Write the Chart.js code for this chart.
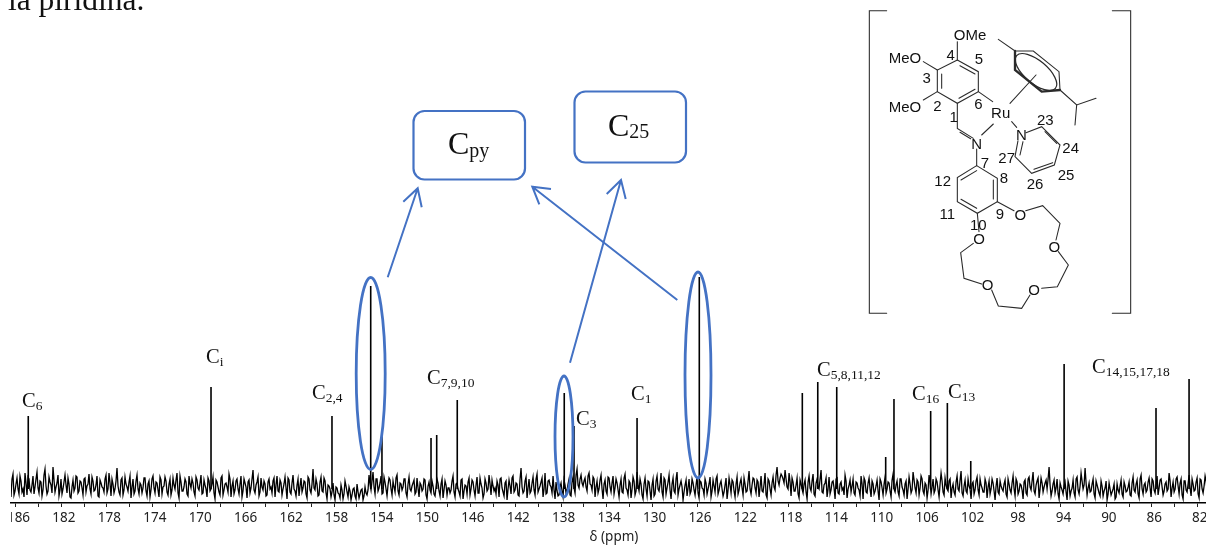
<!DOCTYPE html>
<html>
<head>
<meta charset="utf-8">
<script src="https://cdn.jsdelivr.net/npm/chart.js@4/dist/chart.umd.min.js"></script>
<style>
html,body{margin:0;padding:0;background:#fff;overflow:hidden;width:1206px;height:545px}
canvas{display:block}
</style>
</head>
<body>
<canvas id="c" width="1217" height="545"></canvas>
<script>
// Spectrum: values
const tickPpm = [186,184,182,180,178,176,174,172,170,168,166,164,162,160,158,156,154,152,150,148,146,144,142,140,138,136,134,132,130,128,126,124,122,120,118,116,114,112,110,108,106,104,102,100,98,96,94,92,90,88,86,84,82];
const labelledPpm = [186,182,178,174,170,166,162,158,154,150,146,142,138,134,130,126,122,118,114,110,106,102,98,94,90,86,82];
const peakPpm = [184.92,168.83,158.18,154.77,153.78,149.46,148.96,147.15,137.73,136.87,131.32,125.84,116.77,115.41,113.74,109.43,108.70,105.47,104.00,101.94,93.72,85.63,82.72];
const peakHeight = [87,116,87,217,71,65,68,103,110,77,85,226,110,121,116,46,104,92,100,42,139,95,124];
const baselineStartPpm = 186.44;
const baselineStepPpm = 0.08805;
const baselineOdd = [
6,29,12,25,9,22,14,30,8,24,11,27,16,31,10,21,13,34,9,26,
18,36,11,20,7,24,14,28,10,19,5,23,15,26,12,21,8,25,17,29,
9,22,13,27,6,20,15,24,10,30,7,19,14,35,11,23,8,26,16,21,
5,24,12,28,9,18,15,25,7,22,13,27,10,20,6,23,16,26,11,19,
8,25,14,30,5,21,12,24,9,27,15,20,7,23,13,28,10,18,6,22,
14,26,4,21,11,25,8,19,16,29,6,22,13,24,9,27,12,20,5,23,
15,33,10,21,7,25,13,19,8,24,16,22,6,27,11,20,14,26,4,23,
9,28,12,18,7,25,15,21,5,24,10,34,13,19,8,26,11,22,4,17,
6,20,3,15,9,18,4,22,11,16,3,14,7,19,5,13,3,16,8,28,
13,31,9,24,15,27,10,21,7,25,14,22,11,28,8,19,16,24,6,26,
12,20,9,25,6,18,14,23,4,21,10,17,7,24,12,19,5,22,8,15,
13,27,6,20,11,23,4,18,9,25,14,21,7,26,10,19,5,24,12,28,
8,17,15,22,6,25,11,20,3,23,9,27,13,19,7,35,10,22,5,24,
12,26,8,29,14,21,6,30,10,23,16,27,4,12,8,20,6,18,13,24,
7,26,10,34,15,28,17,25,12,30,18,26,6,22,14,28,4,23,9,25,
11,27,15,20,6,24,10,29,13,22,5,26,8,31,12,19,4,25,7,21,
3,24,9,27,12,30,6,23,15,28,4,25,10,31,14,22,3,18,7,24,
12,20,8,26,5,21,14,24,9,19,6,23,11,27,13,22,7,18,4,25,
10,21,6,26,13,24,8,19,12,32,9,25,15,23,6,27,11,30,5,22,
8,26,13,36,18,29,24,33,16,30,7,21,12,25,5,19,10,23,4,27,
12,29,7,24,14,33,10,20,6,26,13,22,4,25,9,21,15,28,5,18,
11,24,8,20,13,27,4,22,10,25,6,19,12,23,3,21,8,26,14,20,
6,29,11,22,7,24,13,19,4,26,10,31,15,23,8,27,12,20,5,28,
9,24,13,21,6,30,11,25,14,22,5,19,8,27,12,32,7,23,10,17,
4,21,13,26,8,18,11,24,5,22,14,20,3,25,9,17,12,23,6,19,
10,27,7,21,12,18,4,23,8,26,13,31,9,22,5,25,11,20,14,36,
7,19,10,24,4,16,9,21,3,18,12,23,6,26,9,30,14,35,8,20,
12,24,5,18,10,22,7,15,3,20,8,14,4,19,10,23,6,17,12,21,
7,26,11,23,5,28,9,20,13,25,6,22,10,27,15,24,8,19,12,30,
6,21,14,26,9,24,4,22,11,28,7,19,13,25,5,23,10,27,12,20
];
const baselineEven = [
24,8,19,14,27,11,6,20,26,13,18,9,24,15,22,7,28,17,12,21,
10,23,16,28,13,9,21,18,25,6,16,12,27,10,22,15,24,11,19,14,
26,12,18,7,23,16,11,28,14,20,24,10,22,17,8,25,13,19,12,27,
16,9,22,14,20,10,25,12,19,6,24,15,21,13,26,9,17,22,8,24,
13,18,23,10,27,12,16,21,7,19,24,11,26,15,20,9,23,14,25,12,
19,10,23,16,8,27,13,20,11,24,17,9,22,14,19,6,24,16,21,10,
24,13,18,26,11,16,22,7,21,14,10,25,18,12,23,8,19,15,25,11,
20,14,7,24,17,11,22,9,26,13,19,15,24,7,21,12,25,10,18,14,
11,8,16,10,5,13,9,17,6,12,8,15,4,11,9,14,7,10,13,19,
22,16,24,12,20,9,26,14,18,23,8,16,25,12,20,13,24,10,19,14,
17,23,11,15,20,12,24,8,17,13,22,9,16,20,7,24,13,18,15,10,
22,11,19,14,7,24,12,17,21,8,23,13,18,10,25,15,9,20,14,19,
23,12,9,18,24,15,7,22,14,17,25,11,20,8,24,16,12,26,15,10,
20,13,24,11,17,25,14,9,22,18,10,13,21,7,16,12,23,10,19,8,
21,15,28,18,24,20,22,16,27,19,13,24,16,10,23,14,19,12,26,16,
20,9,24,13,18,11,25,15,8,20,14,22,12,17,24,8,19,14,22,12,
18,7,22,14,19,11,25,9,21,13,19,12,24,8,18,16,11,23,15,9,
24,13,18,10,22,15,8,20,14,26,12,17,24,9,19,14,11,25,13,18,
23,12,19,9,20,15,25,11,22,14,18,24,10,21,16,12,19,8,24,14,
20,16,28,22,25,27,20,24,14,21,25,12,18,9,23,14,19,11,21,15,
22,9,20,16,24,11,18,25,14,9,21,15,24,10,19,13,8,22,14,23,
17,10,21,15,7,19,25,11,20,14,22,9,17,12,24,15,19,10,21,12,
23,14,18,11,24,16,8,22,14,19,13,23,10,21,15,24,9,18,13,20,
16,10,24,13,19,22,8,18,12,24,15,11,21,14,23,10,17,12,24,14,
19,9,22,13,24,15,11,20,16,9,24,12,17,11,22,14,19,9,24,13,
20,14,24,9,19,13,21,10,24,16,22,12,18,25,14,20,16,23,24,18,
12,23,15,9,20,13,17,11,22,7,15,10,24,13,17,22,18,20,15,11,
19,9,22,14,7,17,12,22,9,14,11,19,6,13,17,9,21,11,16,8,
20,13,19,9,24,14,18,11,21,15,24,13,19,8,23,16,12,21,14,22,
15,11,24,17,20,8,22,13,19,15,24,12,21,9,24,14,17,22,8,19
];
const baseline = baselineOdd.flatMap((v,i) => [v, baselineEven[i]]);
// Axis layout in ppm
const xMin = 80.26, xMax = 186.44, yMax = 503;

const BLUE = '#4472C4';
const annotate = {
  id: 'annotate',
  afterDraw(chart) {
    const g = chart.ctx;
    g.save();
    // cut-off edge of the first tick label
    g.fillStyle = '#fff';
    g.fillRect(0, 506, 11, 28);

    function text(s, x, y, font, align) {
      g.font = font; g.textAlign = align || 'left'; g.textBaseline = 'alphabetic';
      g.fillStyle = '#111'; g.fillText(s, x, y);
    }
    function label(x, y, main, sub, size, subSize, drop) {
      text(main, x, y, size + 'px "Liberation Serif"');
      const w = g.measureText(main).width;
      text(sub, x + w, y + drop, subSize + 'px "Liberation Serif"');
    }
    text('la piridina.', 8, 10, '31.5px "Liberation Serif"');

    label(22, 407, 'C', '6', 20.5, 13.5, 3);
    label(206, 363, 'C', 'i', 20.5, 13.5, 3);
    label(312, 399, 'C', '2,4', 20.5, 13.5, 3);
    label(427, 384, 'C', '7,9,10', 20.5, 13.5, 3);
    label(576, 425, 'C', '3', 20.5, 13.5, 3);
    label(631, 400, 'C', '1', 20.5, 13.5, 3);
    label(817, 376, 'C', '5,8,11,12', 20.5, 13.5, 3);
    label(912, 400, 'C', '16', 20.5, 13.5, 3);
    label(948, 398, 'C', '13', 20.5, 13.5, 3);
    label(1092, 373, 'C', '14,15,17,18', 20.5, 13.5, 3);
    label(448, 154, 'C', 'py', 32, 20, 3);
    label(608, 136, 'C', '25', 32, 20, 2);

    // Callout boxes, rings, arrows
    g.strokeStyle = BLUE; g.lineWidth = 2.2; g.lineCap = 'butt'; g.lineJoin = 'miter';
    g.beginPath(); g.roundRect(413.5, 111, 111.5, 68.5, 11); g.stroke();
    g.beginPath(); g.roundRect(574.5, 91.5, 111.5, 71, 11); g.stroke();
    g.lineWidth = 2.8;
    [[370.7,373.5,14.5,96],[564,436.5,9,60.5],[698,375,13,103]].forEach(e => {
      g.beginPath(); g.ellipse(e[0], e[1], e[2], e[3], 0, 0, Math.PI*2); g.stroke();
    });
    g.lineWidth = 2;
    [
      [[387.7,277.3],[417.7,188.3],[403.3,201.7],[421.7,207.3]],
      [[677.3,300],[532.3,186.7],[551,189],[539.3,204.3]],
      [[570,362.7],[621,180],[606.7,194],[625.7,199]]
    ].forEach(a => {
      g.beginPath();
      g.moveTo(a[0][0], a[0][1]); g.lineTo(a[1][0], a[1][1]);
      g.moveTo(a[2][0], a[2][1]); g.lineTo(a[1][0], a[1][1]); g.lineTo(a[3][0], a[3][1]);
      g.stroke();
    });

    // Structure drawn in a 3x local space
    g.save();
    g.translate(860, 0); g.scale(1/3, 1/3);
    g.strokeStyle = '#2a2a2a'; g.lineWidth = 3.2; g.lineCap = 'round'; g.lineJoin = 'miter';
    const paths = [
      [[80,32],[28,32],[28,940],[80,940]],
      [[757,32],[812,32],[812,940],[757,940]],
      [[292,180],[355,215],[355,275],[292,310],[232,275],[232,210],[292,180]],
      [[300,197],[345,222]],[[345,268],[297,295]],[[245,222],[245,265]],
      [[292,180],[292,125]],[[232,210],[190,185]],[[232,275],[190,300]],
      [[355,275],[398,305]],[[292,310],[292,385],[340,415]],[[300,397],[332,416]],
      [[365,405],[400,372]],[[350,447],[350,497]],
      [[350,497],[412,535],[412,605],[352,640],[292,605],[292,533],[350,497]],
      [[303,540],[350,512]],[[400,540],[400,597]],[[350,625],[303,598]],
      [[412,605],[462,632]],[[497,632],[548,617],[600,670],[588,720]],
      [[595,755],[625,795],[592,860],[545,865]],
      [[510,885],[485,925],[415,918],[395,870]],
      [[365,852],[312,835],[302,758],[340,730]],
      [[352,640],[357,695]],
      [[415,118],[465,153],[520,153],[597,215],[600,270]],
      [[450,310],[528,225]],
      [[600,270],[650,315],[708,295]],[[650,315],[645,375]],
      [[455,365],[470,382]],
      [[498,398],[545,380],[600,435],[583,495],[515,520],[465,470],[474,422]],
      [[555,395],[590,430]],[[578,488],[522,508]],[[480,465],[489,425]]
    ];
    paths.forEach(p => {
      g.beginPath();
      p.forEach((q,i) => i ? g.lineTo(q[0],q[1]) : g.moveTo(q[0],q[1]));
      g.stroke();
    });
    g.lineWidth = 7;
    [[[465,153],[465,210],[545,275],[600,270]]].forEach(p => {
      g.beginPath();
      p.forEach((q,i) => i ? g.lineTo(q[0],q[1]) : g.moveTo(q[0],q[1]));
      g.stroke();
    });
    g.lineWidth = 3.6;
    g.beginPath(); g.ellipse(528, 216, 76, 34, 40*Math.PI/180, 0, Math.PI*2); g.stroke();
    const sf = '45px "Liberation Sans"';
    [['OMe',330,119],['MeO',135,190],['MeO',135,335],['Ru',422,355],['N',350,446],['N',484,419],
     ['O',481,659],['O',357,731],['O',383,871],['O',522,886],['O',583,757],
     ['4',272,180],['5',357,193],['3',200,248],['2',232,333],['6',355,327],['1',281,365],
     ['23',556,375],['24',632,460],['27',440,490],['25',618,540],['26',525,567],
     ['7',375,505],['8',432,550],['12',248,558],['11',262,657],['9',420,657],['10',355,690]
    ].forEach(t => text(t[0], t[1], t[2], sf, 'center'));
    g.restore();
    g.restore();
  }
};

new Chart(document.getElementById('c'), {
  type: 'line',
  data: {
    datasets: [
      {
        label: 'baseline',
        data: baseline.map((v,i) => ({x: baselineStartPpm - i*baselineStepPpm, y: v})),
        borderColor: '#000', borderWidth: 1.3, pointRadius: 0, tension: 0, fill: false
      },
      {
        label: 'peaks',
        data: peakPpm.flatMap((p,i) => [{x:p,y:14},{x:p,y:peakHeight[i]},{x:p,y:null}]),
        borderColor: '#000', borderWidth: 1.6, pointRadius: 0, tension: 0, fill: false, spanGaps: false
      }
    ]
  },
  options: {
    responsive: false, animation: false,
    layout: {padding: {left: 11, right: 0, top: 0, bottom: 0}},
    plugins: {legend: {display: false}, tooltip: {enabled: false}},
    scales: {
      x: {
        type: 'linear', reverse: true, min: xMin, max: xMax,
        afterBuildTicks(s) { s.ticks = tickPpm.map(v => ({value: v})); },
        afterFit(s) { s.height = 42; s.paddingLeft = 0; s.paddingRight = 0; },
        border: {display: true, color: '#000', width: 1.5},
        grid: {display: true, drawOnChartArea: false, drawTicks: true, tickLength: 4, color: '#222'},
        ticks: {
          autoSkip: false, maxRotation: 0, minRotation: 0, padding: 3, labelOffset: 2.5, color: '#222',
          font: {family: '"Noto Sans"', size: 13.5},
          callback: v => labelledPpm.includes(v) ? String(v) : ''
        },
        title: {display: true, text: 'δ (ppm)', color: '#222', padding: {top: 0, bottom: 0},
                font: {family: '"Noto Sans"', size: 13.5}}
      },
      y: {display: false, min: 0, max: yMax}
    }
  },
  plugins: [annotate]
});
</script>
</body>
</html>
